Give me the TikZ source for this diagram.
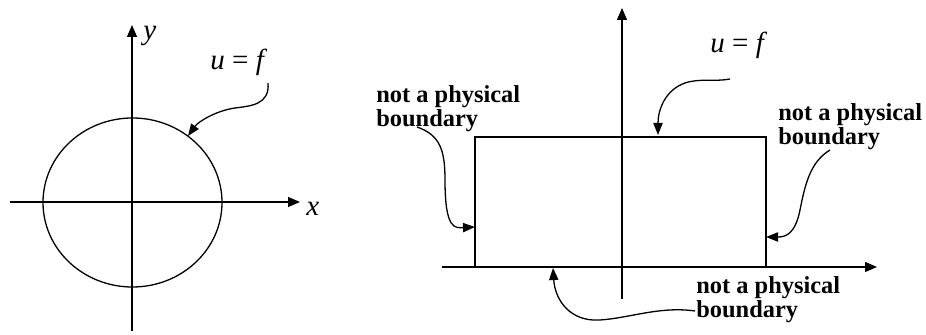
\documentclass[tikz,border=0pt]{standalone}
\usepackage{fontspec}
\setmainfont{Liberation Serif}
\usetikzlibrary{arrows.meta}
\begin{document}
\begin{tikzpicture}[x=0.5pt,y=-0.5pt,
  ln/.style={line width=0.65pt},
  ax/.style={ln,-{Triangle[length=6pt,width=5pt]}},
  pt/.style={ln,-{Triangle[length=6pt,width=4.6pt]}},
  lbl/.style={font=\fontsize{12.2}{11}\selectfont\bfseries,align=left,inner sep=0pt,anchor=base west},
  mth/.style={font=\fontsize{14.5}{16}\selectfont\itshape,inner sep=0pt,anchor=base west}]
\useasboundingbox (0,0) rectangle (926,335);
% ---------- left ----------
\coordinate (lxs) at (10,202); \coordinate (lxe) at (300,202);
\coordinate (lys) at (132,331); \coordinate (lye) at (132,25);
\draw[ax] (lxs) -- (lxe);
\draw[ax] (lys) -- (lye);
\draw[ln] (132.5,202.5) ellipse [x radius=89.5, y radius=84.5];
\node[mth] (ylab) at (143,40) {y};
\node[mth] (xlab) at (306,216) {x};
\node[mth] (uf1) at (210,70) {u {\upshape =} f};
\coordinate (a1s) at (268,83);
\coordinate (a1e) at (188,136);
\draw[pt] (a1s) .. controls (270,105) and (250,106) .. (235,108) .. controls (215,111) and (198,122) .. (a1e);
% ---------- right ----------
\coordinate (rxs) at (442,267); \coordinate (rxe) at (877,267);
\coordinate (rys) at (622,299); \coordinate (rye) at (622,8);
\draw[ax] (rxs) -- (rxe);
\draw[ax] (rys) -- (rye);
\draw[ln] (475,137) rectangle (766,267);
\node[mth] (uf2) at (710,53) {u {\upshape =} f};
\coordinate (a2s) at (730,79);
\coordinate (a2e) at (658,135);
\draw[pt] (a2s) .. controls (715,82) and (700,78) .. (685,83) .. controls (665,90) and (658,110) .. (a2e);
\node[lbl] (lb1) at (376,127) {not a physical\\boundary};
\node[lbl] (lb2) at (778,145) {not a physical\\boundary};
\node[lbl] (lb3) at (696,318) {not a physical\\boundary};
\coordinate (b1s) at (417,127); \coordinate (b1e) at (475,227);
\draw[pt] (b1s) .. controls (440,135) and (445,150) .. (445,180) .. controls (445,230) and (455,228) .. (b1e);
\coordinate (b2s) at (830,150); \coordinate (b2e) at (766,237);
\draw[pt] (b2s) .. controls (810,162) and (805,185) .. (800,210) .. controls (795,235) and (785,237) .. (b2e);
\coordinate (b3s) at (695,311); \coordinate (b3e) at (553,268);
\draw[pt] (b3s) .. controls (660,306) and (630,318) .. (600,320) .. controls (570,322) and (555,300) .. (b3e);
\end{tikzpicture}
\end{document}
